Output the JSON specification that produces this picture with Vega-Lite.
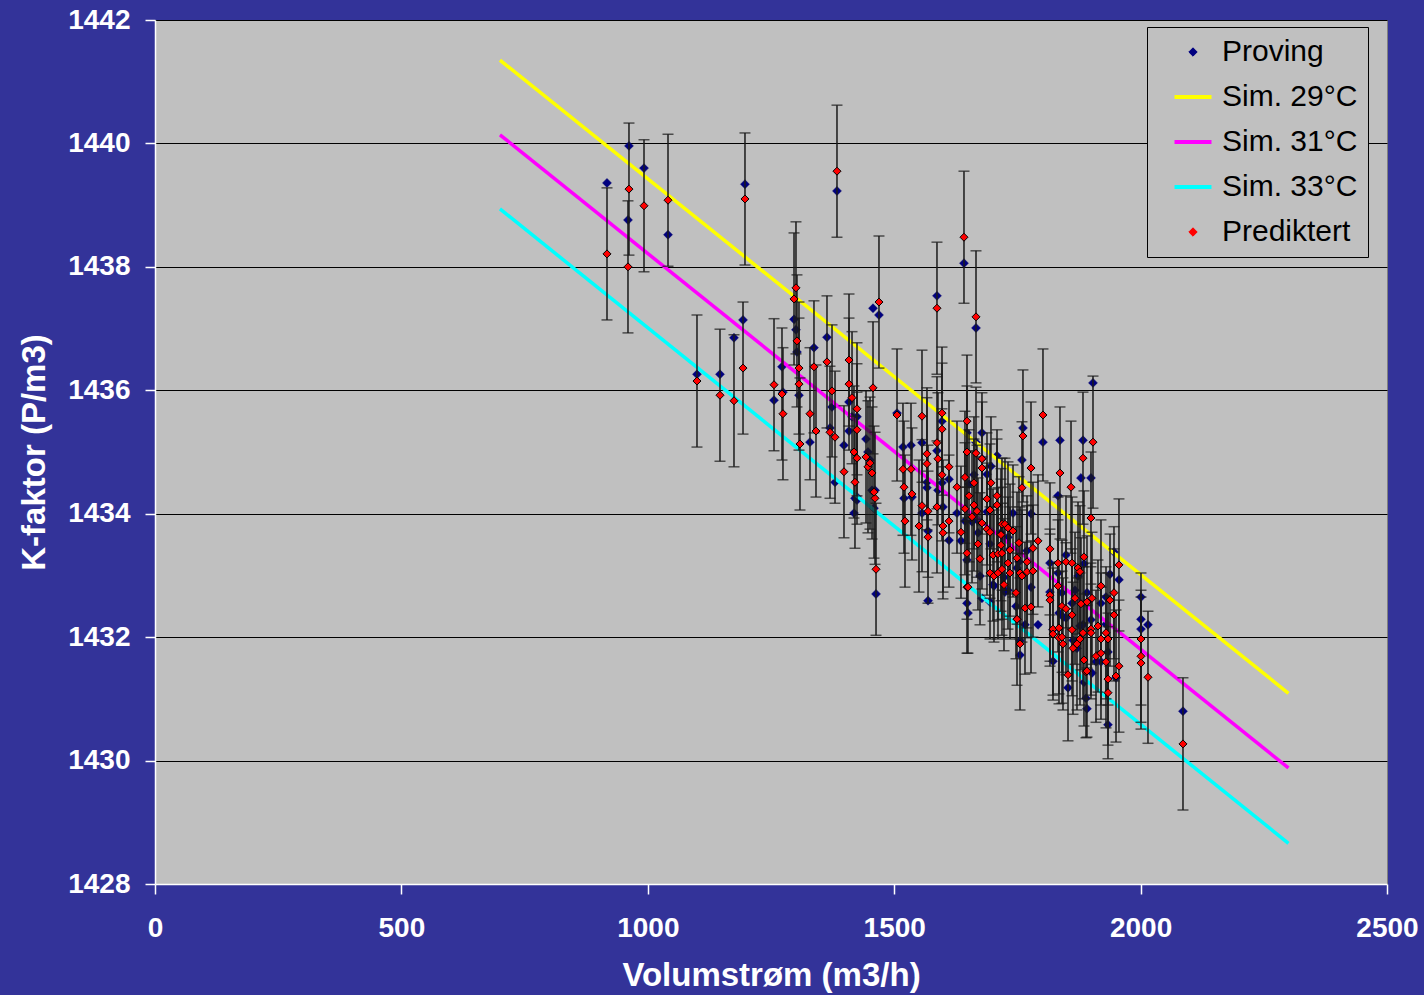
{
  "$schema": "https://vega.github.io/schema/vega-lite/v6.json",
  "width": 1232,
  "height": 864,
  "autosize": {"type": "none"},
  "padding": {"left": 155, "top": 20, "right": 37, "bottom": 111},
  "background": "#333399",
  "config": {
    "view": {"fill": "#C0C0C0", "stroke": "#808080", "strokeWidth": 1},
    "font": "Liberation Sans",
    "axis": {
      "domainColor": "#FFFFFF",
      "domainWidth": 1.5,
      "tickColor": "#FFFFFF",
      "tickWidth": 1.5,
      "tickSize": 10,
      "labelColor": "#FFFFFF",
      "labelFont": "Liberation Sans",
      "labelFontSize": 28,
      "labelFontWeight": "bold",
      "titleColor": "#FFFFFF",
      "titleFont": "Liberation Sans",
      "titleFontSize": 33,
      "titleFontWeight": "bold"
    }
  },
  "datasets": {
    "sim": [
      {"s": "Sim. 29°C", "x": 700, "y": 1441.35},
      {"s": "Sim. 29°C", "x": 2300, "y": 1431.09},
      {"s": "Sim. 31°C", "x": 700, "y": 1440.14},
      {"s": "Sim. 31°C", "x": 2300, "y": 1429.88},
      {"s": "Sim. 33°C", "x": 700, "y": 1438.94},
      {"s": "Sim. 33°C", "x": 2300, "y": 1428.66}
    ],
    "pts": [
      {"x": 917.2, "p": 1439.36, "r": 1438.21, "e": 1.07},
      {"x": 961.8, "p": 1439.96, "r": 1439.26, "e": 1.07},
      {"x": 959.8, "p": 1438.76, "r": 1438.00, "e": 1.07},
      {"x": 992.3, "p": 1439.60, "r": 1438.99, "e": 1.07},
      {"x": 1041.0, "p": 1438.52, "r": 1439.08, "e": 1.07},
      {"x": 1197.2, "p": 1439.34, "r": 1439.10, "e": 1.07},
      {"x": 1383.9, "p": 1439.23, "r": 1439.55, "e": 1.07},
      {"x": 1099.8, "p": 1436.26, "r": 1436.15, "e": 1.07},
      {"x": 1146.5, "p": 1436.26, "r": 1435.92, "e": 1.07},
      {"x": 1174.9, "p": 1436.85, "r": 1435.83, "e": 1.07},
      {"x": 1193.2, "p": 1437.14, "r": 1436.36, "e": 1.07},
      {"x": 1256.1, "p": 1435.84, "r": 1436.09, "e": 1.07},
      {"x": 1272.3, "p": 1436.38, "r": 1435.94, "e": 1.07},
      {"x": 1274.3, "p": 1435.97, "r": 1435.62, "e": 1.07},
      {"x": 1296.7, "p": 1437.15, "r": 1437.48, "e": 1.07},
      {"x": 1300.7, "p": 1436.98, "r": 1437.66, "e": 1.07},
      {"x": 1302.7, "p": 1436.62, "r": 1436.80, "e": 1.07},
      {"x": 1306.8, "p": 1435.92, "r": 1436.36, "e": 1.07},
      {"x": 1306.8, "p": null, "r": 1436.10, "e": 1.07},
      {"x": 1308.8, "p": null, "r": 1435.13, "e": 1.07},
      {"x": 1329.1, "p": 1435.16, "r": 1435.62, "e": 1.07},
      {"x": 1337.2, "p": 1436.69, "r": 1436.38, "e": 1.07},
      {"x": 1341.3, "p": null, "r": 1435.34, "e": 1.07},
      {"x": 1363.6, "p": 1436.86, "r": 1436.46, "e": 1.07},
      {"x": 1373.8, "p": 1435.73, "r": 1435.99, "e": 1.07},
      {"x": 1369.7, "p": 1435.39, "r": 1435.32, "e": 1.07},
      {"x": 1379.9, "p": 1434.51, "r": 1435.24, "e": 1.07},
      {"x": 1398.1, "p": 1435.11, "r": 1434.68, "e": 1.07},
      {"x": 1408.3, "p": 1435.81, "r": 1436.49, "e": 1.07},
      {"x": 1408.3, "p": 1435.34, "r": 1436.10, "e": 1.07},
      {"x": 1414.4, "p": 1435.57, "r": 1435.88, "e": 1.07},
      {"x": 1424.5, "p": 1435.57, "r": 1435.70, "e": 1.07},
      {"x": 1424.5, "p": 1434.22, "r": 1435.36, "e": 1.07},
      {"x": 1418.4, "p": 1434.01, "r": 1435.00, "e": 1.07},
      {"x": 1424.5, "p": 1434.27, "r": 1434.90, "e": 1.07},
      {"x": 1420.4, "p": 1434.25, "r": 1434.51, "e": 1.07},
      {"x": 1442.8, "p": 1435.21, "r": 1434.92, "e": 1.07},
      {"x": 1446.8, "p": 1435.00, "r": 1434.76, "e": 1.07},
      {"x": 1450.9, "p": 1434.87, "r": 1434.82, "e": 1.07},
      {"x": 1455.0, "p": 1434.38, "r": 1434.66, "e": 1.07},
      {"x": 1461.1, "p": 1434.38, "r": 1434.25, "e": 1.07},
      {"x": 1463.1, "p": 1432.70, "r": 1433.10, "e": 1.07},
      {"x": 1457.0, "p": 1437.33, "r": 1436.04, "e": 1.07},
      {"x": 1469.1, "p": 1437.22, "r": 1437.43, "e": 1.07},
      {"x": 1459.0, "p": 1434.09, "r": 1434.35, "e": 1.07},
      {"x": 1505.7, "p": 1435.63, "r": 1435.60, "e": 1.07},
      {"x": 1517.8, "p": 1435.08, "r": 1434.72, "e": 1.07},
      {"x": 1519.9, "p": 1434.25, "r": 1434.43, "e": 1.07},
      {"x": 1521.9, "p": null, "r": 1433.88, "e": 1.07},
      {"x": 1534.1, "p": 1435.11, "r": 1434.72, "e": 1.07},
      {"x": 1536.1, "p": 1434.27, "r": 1434.32, "e": 1.07},
      {"x": 1556.4, "p": 1435.15, "r": 1435.58, "e": 1.07},
      {"x": 1556.4, "p": 1434.01, "r": 1434.13, "e": 1.07},
      {"x": 1550.3, "p": null, "r": 1433.80, "e": 1.07},
      {"x": 1566.5, "p": 1434.51, "r": 1434.97, "e": 1.07},
      {"x": 1566.5, "p": 1434.42, "r": 1434.81, "e": 1.07},
      {"x": 1568.6, "p": 1433.72, "r": 1434.04, "e": 1.07},
      {"x": 1568.6, "p": 1432.59, "r": 1433.62, "e": 1.07},
      {"x": 1586.8, "p": 1437.53, "r": 1437.33, "e": 1.07},
      {"x": 1586.8, "p": 1435.02, "r": 1435.15, "e": 1.07},
      {"x": 1588.8, "p": 1434.38, "r": 1434.89, "e": 1.07},
      {"x": 1586.8, "p": null, "r": 1434.11, "e": 1.07},
      {"x": 1597.0, "p": 1435.50, "r": 1435.63, "e": 1.07},
      {"x": 1597.0, "p": null, "r": 1435.37, "e": 1.07},
      {"x": 1597.0, "p": 1434.50, "r": 1434.63, "e": 1.07},
      {"x": 1599.0, "p": 1434.11, "r": 1433.80, "e": 1.07},
      {"x": 1599.0, "p": null, "r": 1433.69, "e": 1.07},
      {"x": 1611.2, "p": 1434.56, "r": 1434.76, "e": 1.07},
      {"x": 1611.2, "p": 1433.57, "r": 1433.88, "e": 1.07},
      {"x": 1627.4, "p": 1434.01, "r": 1434.43, "e": 1.07},
      {"x": 1635.5, "p": 1433.56, "r": 1433.70, "e": 1.07},
      {"x": 1643.6, "p": null, "r": 1434.59, "e": 1.07},
      {"x": 1643.6, "p": 1433.88, "r": 1434.08, "e": 1.07},
      {"x": 1641.6, "p": 1438.06, "r": 1438.48, "e": 1.07},
      {"x": 1647.7, "p": 1435.31, "r": 1435.50, "e": 1.07},
      {"x": 1647.7, "p": null, "r": 1435.00, "e": 1.07},
      {"x": 1647.7, "p": 1433.25, "r": 1433.36, "e": 1.07},
      {"x": 1647.7, "p": 1432.55, "r": 1432.81, "e": 1.07},
      {"x": 1649.7, "p": 1432.39, "r": 1432.81, "e": 1.07},
      {"x": 1651.8, "p": 1434.48, "r": 1434.29, "e": 1.07},
      {"x": 1657.9, "p": 1433.87, "r": 1433.95, "e": 1.07},
      {"x": 1661.9, "p": 1434.63, "r": 1434.50, "e": 1.07},
      {"x": 1661.9, "p": null, "r": 1434.14, "e": 1.07},
      {"x": 1666.0, "p": 1435.16, "r": 1434.98, "e": 1.07},
      {"x": 1666.0, "p": 1437.01, "r": 1437.19, "e": 1.07},
      {"x": 1668.0, "p": 1433.90, "r": 1434.04, "e": 1.07},
      {"x": 1670.0, "p": 1433.69, "r": 1433.51, "e": 1.07},
      {"x": 1674.1, "p": 1432.99, "r": 1433.27, "e": 1.07},
      {"x": 1678.1, "p": 1435.31, "r": 1434.74, "e": 1.07},
      {"x": 1678.1, "p": 1434.89, "r": 1434.89, "e": 1.07},
      {"x": 1678.1, "p": 1432.63, "r": 1433.85, "e": 1.07},
      {"x": 1688.3, "p": 1434.64, "r": 1434.24, "e": 1.07},
      {"x": 1688.3, "p": 1434.03, "r": 1433.75, "e": 1.07},
      {"x": 1694.4, "p": 1433.51, "r": 1434.06, "e": 1.07},
      {"x": 1694.4, "p": null, "r": 1433.70, "e": 1.07},
      {"x": 1694.4, "p": 1432.57, "r": 1433.04, "e": 1.07},
      {"x": 1696.4, "p": 1434.77, "r": 1434.50, "e": 1.07},
      {"x": 1700.5, "p": 1432.85, "r": 1433.33, "e": 1.07},
      {"x": 1702.5, "p": 1432.83, "r": 1432.99, "e": 1.07},
      {"x": 1708.6, "p": 1434.94, "r": 1434.29, "e": 1.07},
      {"x": 1708.6, "p": null, "r": 1434.14, "e": 1.07},
      {"x": 1710.6, "p": null, "r": 1433.35, "e": 1.07},
      {"x": 1710.6, "p": null, "r": 1433.04, "e": 1.07},
      {"x": 1716.7, "p": 1433.69, "r": 1433.66, "e": 1.07},
      {"x": 1716.7, "p": null, "r": 1433.49, "e": 1.07},
      {"x": 1718.7, "p": null, "r": 1433.83, "e": 1.07},
      {"x": 1718.7, "p": null, "r": 1433.36, "e": 1.07},
      {"x": 1718.7, "p": null, "r": 1433.10, "e": 1.07},
      {"x": 1722.8, "p": 1432.97, "r": 1432.85, "e": 1.07},
      {"x": 1724.8, "p": 1432.73, "r": 1433.83, "e": 1.07},
      {"x": 1730.9, "p": 1433.62, "r": 1433.77, "e": 1.07},
      {"x": 1730.9, "p": 1432.76, "r": 1433.20, "e": 1.07},
      {"x": 1735.0, "p": 1433.43, "r": 1433.41, "e": 1.07},
      {"x": 1735.0, "p": null, "r": 1433.04, "e": 1.07},
      {"x": 1741.1, "p": 1434.01, "r": 1433.72, "e": 1.07},
      {"x": 1747.1, "p": 1432.50, "r": 1432.72, "e": 1.07},
      {"x": 1749.2, "p": 1433.12, "r": 1433.28, "e": 1.07},
      {"x": 1749.2, "p": 1432.29, "r": 1432.29, "e": 1.07},
      {"x": 1753.2, "p": 1433.22, "r": 1433.53, "e": 1.07},
      {"x": 1755.3, "p": 1431.71, "r": 1431.89, "e": 1.07},
      {"x": 1755.3, "p": 1431.94, "r": 1433.04, "e": 1.07},
      {"x": 1759.3, "p": 1434.87, "r": 1434.42, "e": 1.07},
      {"x": 1759.3, "p": null, "r": 1432.99, "e": 1.07},
      {"x": 1761.3, "p": 1435.39, "r": 1435.26, "e": 1.07},
      {"x": 1765.4, "p": 1432.20, "r": 1432.47, "e": 1.07},
      {"x": 1769.5, "p": 1433.40, "r": 1433.06, "e": 1.07},
      {"x": 1769.5, "p": null, "r": 1433.22, "e": 1.07},
      {"x": 1777.6, "p": 1434.00, "r": 1434.74, "e": 1.07},
      {"x": 1777.6, "p": 1432.81, "r": 1432.49, "e": 1.07},
      {"x": 1781.6, "p": null, "r": 1433.44, "e": 1.07},
      {"x": 1781.6, "p": null, "r": 1433.07, "e": 1.07},
      {"x": 1791.8, "p": 1432.20, "r": 1433.56, "e": 1.07},
      {"x": 1801.9, "p": 1435.16, "r": 1435.60, "e": 1.07},
      {"x": 1816.1, "p": 1433.20, "r": 1433.43, "e": 1.07},
      {"x": 1816.1, "p": null, "r": 1432.68, "e": 1.07},
      {"x": 1816.1, "p": 1432.73, "r": 1432.60, "e": 1.07},
      {"x": 1822.2, "p": 1432.12, "r": 1432.13, "e": 1.07},
      {"x": 1822.2, "p": 1431.61, "r": 1432.05, "e": 1.07},
      {"x": 1834.4, "p": 1432.39, "r": 1432.15, "e": 1.07},
      {"x": 1834.4, "p": null, "r": 1431.99, "e": 1.07},
      {"x": 1832.4, "p": 1434.29, "r": 1433.20, "e": 1.07},
      {"x": 1832.4, "p": 1433.04, "r": 1432.83, "e": 1.07},
      {"x": 1836.4, "p": 1435.19, "r": 1434.66, "e": 1.07},
      {"x": 1840.5, "p": 1432.72, "r": 1432.50, "e": 1.07},
      {"x": 1840.5, "p": null, "r": 1432.00, "e": 1.07},
      {"x": 1842.5, "p": 1432.33, "r": 1431.89, "e": 1.07},
      {"x": 1848.6, "p": 1433.33, "r": 1433.22, "e": 1.07},
      {"x": 1848.6, "p": 1432.31, "r": 1432.46, "e": 1.07},
      {"x": 1852.7, "p": 1431.18, "r": 1431.39, "e": 1.07},
      {"x": 1858.8, "p": null, "r": 1434.43, "e": 1.07},
      {"x": 1860.8, "p": 1432.55, "r": 1433.20, "e": 1.07},
      {"x": 1860.8, "p": null, "r": 1432.36, "e": 1.07},
      {"x": 1860.8, "p": null, "r": 1432.12, "e": 1.07},
      {"x": 1862.8, "p": 1431.95, "r": 1431.82, "e": 1.07},
      {"x": 1866.9, "p": 1432.76, "r": 1432.63, "e": 1.07},
      {"x": 1870.9, "p": 1431.82, "r": 1431.89, "e": 1.07},
      {"x": 1873.0, "p": 1432.99, "r": 1433.12, "e": 1.07},
      {"x": 1877.0, "p": 1432.18, "r": 1433.06, "e": 1.07},
      {"x": 1877.0, "p": null, "r": 1431.97, "e": 1.07},
      {"x": 1883.1, "p": 1435.19, "r": 1434.90, "e": 1.07},
      {"x": 1879.0, "p": 1434.58, "r": 1432.54, "e": 1.07},
      {"x": 1883.1, "p": 1432.20, "r": 1432.07, "e": 1.07},
      {"x": 1885.1, "p": 1433.19, "r": 1433.30, "e": 1.07},
      {"x": 1885.1, "p": 1431.27, "r": 1431.63, "e": 1.07},
      {"x": 1889.2, "p": 1431.01, "r": 1431.44, "e": 1.07},
      {"x": 1891.2, "p": 1432.72, "r": 1432.57, "e": 1.07},
      {"x": 1891.2, "p": 1430.84, "r": 1431.45, "e": 1.07},
      {"x": 1899.3, "p": 1432.28, "r": 1432.13, "e": 1.07},
      {"x": 1899.3, "p": null, "r": 1432.07, "e": 1.07},
      {"x": 1899.3, "p": 1434.58, "r": 1433.93, "e": 1.07},
      {"x": 1901.4, "p": 1431.42, "r": 1432.63, "e": 1.07},
      {"x": 1903.4, "p": 1436.12, "r": 1435.16, "e": 1.07},
      {"x": 1909.5, "p": 1431.60, "r": 1431.69, "e": 1.07},
      {"x": 1913.5, "p": null, "r": 1432.18, "e": 1.07},
      {"x": 1919.6, "p": 1432.55, "r": 1432.83, "e": 1.07},
      {"x": 1919.6, "p": 1431.60, "r": 1431.97, "e": 1.07},
      {"x": 1919.6, "p": null, "r": 1431.74, "e": 1.07},
      {"x": 1929.8, "p": 1432.65, "r": 1432.07, "e": 1.07},
      {"x": 1929.8, "p": 1432.21, "r": 1431.60, "e": 1.07},
      {"x": 1933.8, "p": 1431.76, "r": 1431.97, "e": 1.07},
      {"x": 1933.8, "p": 1430.58, "r": 1431.32, "e": 1.07},
      {"x": 1933.8, "p": null, "r": 1431.10, "e": 1.07},
      {"x": 1937.9, "p": 1433.02, "r": 1432.60, "e": 1.07},
      {"x": 1946.0, "p": 1433.38, "r": 1432.72, "e": 1.07},
      {"x": 1946.0, "p": null, "r": 1432.36, "e": 1.07},
      {"x": 1950.1, "p": 1431.34, "r": 1431.37, "e": 1.07},
      {"x": 1956.1, "p": 1432.93, "r": 1433.17, "e": 1.07},
      {"x": 1956.1, "p": null, "r": 1431.53, "e": 1.07},
      {"x": 2000.8, "p": 1432.65, "r": 1431.97, "e": 1.07},
      {"x": 2000.8, "p": 1432.29, "r": 1431.69, "e": 1.07},
      {"x": 2000.8, "p": 1432.13, "r": 1431.58, "e": 1.07},
      {"x": 2015.0, "p": 1432.20, "r": 1431.35, "e": 1.07},
      {"x": 2086.0, "p": 1430.80, "r": 1430.27, "e": 1.07}
    ]
  },
  "layer": [
    {
      "data": {"name": "pts"},
      "mark": {"type": "point", "shape": "diamond", "filled": true, "fill": "#000080", "stroke": "#000066", "strokeWidth": 0.5, "size": 80, "opacity": 1},
      "encoding": {
        "x": {"field": "x", "type": "quantitative", "title": "Volumstrøm (m3/h)",
          "scale": {"domain": [0, 2500], "nice": false, "zero": false},
          "axis": {"values": [0, 500, 1000, 1500, 2000, 2500], "format": "d", "grid": false, "labelPadding": 20, "titlePadding": 17, "labelFlush": false}},
        "y": {"field": "p", "type": "quantitative", "title": "K-faktor (P/m3)",
          "scale": {"domain": [1428, 1442], "nice": false, "zero": false},
          "axis": {"values": [1428, 1430, 1432, 1434, 1436, 1438, 1440, 1442], "format": "d", "grid": true, "gridColor": "#000000", "gridWidth": 1, "gridOpacity": 1, "labelPadding": 15, "titlePadding": 16, "labelFlush": false}}
      }
    },
    {
      "data": {"name": "sim"},
      "mark": {"type": "line", "strokeWidth": 3.5, "strokeCap": "butt"},
      "encoding": {
        "x": {"field": "x", "type": "quantitative", "title": "Volumstrøm (m3/h)"},
        "y": {"field": "y", "type": "quantitative", "title": "K-faktor (P/m3)"},
        "color": {
          "field": "s", "type": "nominal",
          "scale": {"domain": ["Proving", "Sim. 29°C", "Sim. 31°C", "Sim. 33°C", "Prediktert"], "range": ["#000080", "#FFFF00", "#FF00FF", "#00FFFF", "#FF0000"]},
          "legend": {
            "title": null,
            "orient": "none",
            "legendX": 992,
            "legendY": 7,
            "fillColor": "#C0C0C0",
            "strokeColor": "#000000",
            "padding": 10,
            "rowPadding": 15,
            "labelFont": "Liberation Sans",
            "labelFontSize": 30,
            "labelColor": "#000000",
            "labelOffset": 14,
            "labelLimit": 300,
            "labelExpr": "datum.label + '\u2002'",
            "symbolOffset": 21,
            "symbolSize": 1369,
            "symbolStrokeWidth": 4,
            "symbolType": "stroke",
            "encode": {
              "symbols": {
                "update": {
                  "shape": {"signal": "(datum.value === 'Proving' || datum.value === 'Prediktert') ? 'diamond' : 'stroke'"},
                  "size": {"signal": "(datum.value === 'Proving' || datum.value === 'Prediktert') ? 70 : 1369"},
                  "fill": {"signal": "datum.value === 'Proving' ? '#000080' : (datum.value === 'Prediktert' ? '#FF0000' : 'transparent')"},
                  "stroke": {"signal": "datum.value === 'Proving' ? '#000080' : (datum.value === 'Prediktert' ? '#000000' : (datum.value === 'Sim. 29°C' ? '#FFFF00' : (datum.value === 'Sim. 31°C' ? '#FF00FF' : '#00FFFF')))"},
                  "strokeWidth": {"signal": "(datum.value === 'Proving' || datum.value === 'Prediktert') ? 1 : 4"},
                  "opacity": {"value": 1}
                }
              }
            }
          }
        }
      }
    },
    {
      "data": {"name": "pts"},
      "mark": {"type": "errorbar", "ticks": true, "size": 11, "thickness": 1.5, "color": "#1a1a1a"},
      "encoding": {
        "x": {"field": "x", "type": "quantitative", "title": "Volumstrøm (m3/h)"},
        "y": {"field": "r", "type": "quantitative", "title": "K-faktor (P/m3)"},
        "yError": {"field": "e"}
      }
    },
    {
      "data": {"name": "pts"},
      "mark": {"type": "point", "shape": "diamond", "filled": true, "fill": "#FF0000", "stroke": "#000000", "strokeWidth": 1, "size": 64, "opacity": 1},
      "encoding": {
        "x": {"field": "x", "type": "quantitative", "title": "Volumstrøm (m3/h)"},
        "y": {"field": "r", "type": "quantitative", "title": "K-faktor (P/m3)"}
      }
    }
  ]
}
